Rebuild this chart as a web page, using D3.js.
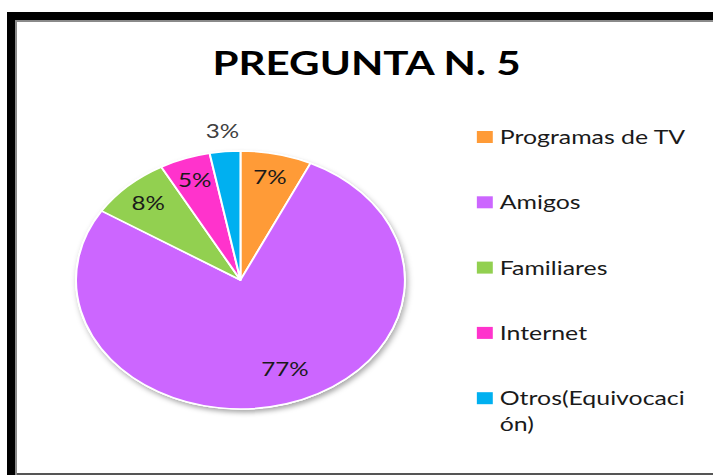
<!DOCTYPE html>
<html>
<head>
<meta charset="utf-8">
<script src="https://cdn.jsdelivr.net/npm/d3@7"></script>
<style>
  body { margin: 0; background: #fff; }
  svg { display: block; }
</style>
</head>
<body>
<svg id="chart"></svg>
<script>
var categories = ['Programas de TV', 'Amigos', 'Familiares', 'Internet', 'Otros(Equivocación)'];
var values = [7, 77, 8, 5, 3];
var colors = ['#FF9B37', '#CC66FF', '#92D050', '#FF33CC', '#00B0F0'];
var title = 'PREGUNTA N. 5';

var width = 713;
var height = 475;
var sx = 1.275; // the picture is stretched sideways
var cx = 188.6, cy = 280, radius = 129;

var svg = d3.select('#chart')
    .attr('width', width)
    .attr('height', height);

var defs = svg.append('defs');
var shadow = defs.append('filter')
    .attr('id', 'shadow')
    .attr('x', '-20%').attr('y', '-20%')
    .attr('width', '140%').attr('height', '140%');
shadow.append('feDropShadow')
    .attr('dx', 1.5).attr('dy', 3)
    .attr('stdDeviation', 2.5)
    .attr('flood-color', '#000')
    .attr('flood-opacity', 0.35);

svg.append('rect')
    .attr('width', width).attr('height', height)
    .attr('fill', '#fff');

// frame
svg.append('rect').attr('x', 7).attr('y', 12).attr('width', width).attr('height', 8).attr('fill', '#000');
svg.append('rect').attr('x', 7).attr('y', 12).attr('width', 8).attr('height', height).attr('fill', '#000');
svg.append('line').attr('x1', 16).attr('x2', 16).attr('y1', 20).attr('y2', height)
    .attr('stroke', '#8a8a8a').attr('stroke-width', 2);
svg.append('line').attr('x1', 15).attr('x2', width).attr('y1', 21).attr('y2', 21)
    .attr('stroke', '#8a8a8a').attr('stroke-width', 2);
svg.append('line').attr('x1', 17).attr('x2', width).attr('y1', 474).attr('y2', 474)
    .attr('stroke', '#555').attr('stroke-width', 2);

var g = svg.append('g')
    .attr('transform', `scale(${sx},1)`);

g.append('text')
    .attr('x', 287.5)
    .attr('y', 75)
    .attr('text-anchor', 'middle')
    .attr('font-family', 'Lato, sans-serif')
    .attr('font-weight', 'bold')
    .attr('font-size', 33)
    .attr('fill', '#000')
    .text(title);

var data = categories.map((c, i) => ({ name: c, value: values[i], color: colors[i] }));

var pie = d3.pie()
    .sort(null)
    .value(d => d.value);
var arcs = pie(data);
var total = d3.sum(values);

var arc = d3.arc().innerRadius(0).outerRadius(radius);

var pieG = g.append('g')
    .attr('transform', `translate(${cx},${cy})`);

pieG.append('circle')
    .attr('r', radius + 0.5)
    .attr('fill', '#fff')
    .attr('filter', 'url(#shadow)');

pieG.selectAll('path')
    .data(arcs)
    .enter().append('path')
    .attr('d', arc)
    .attr('fill', d => d.data.color)
    .attr('stroke', '#fff')
    .attr('stroke-width', 1.6)
    .attr('stroke-linejoin', 'round');

function labelRadius(d) {
    var share = d.data.value / total;
    if (share < 0.04) return radius * 1.16;
    if (share > 0.5) return radius * 0.72;
    return radius * 0.82;
}

pieG.selectAll('text.pct')
    .data(arcs)
    .enter().append('text')
    .attr('class', 'pct')
    .attr('transform', d => {
        var r = labelRadius(d);
        var c = d3.arc().innerRadius(r).outerRadius(r).centroid(d);
        // big slice label sits a little closer to the slice's middle line in the original
        if (d.data.value / total > 0.5) c[0] += 9;
        return `translate(${c[0]},${c[1]})`;
    })
    .attr('text-anchor', 'middle')
    .attr('dy', '0.36em')
    .attr('font-family', 'Lato, sans-serif')
    .attr('font-size', 19)
    .attr('fill', d => d.data.value / total < 0.04 ? '#404040' : '#1a1a1a')
    .text(d => Math.round(d.data.value / total * 100) + '%');

// legend
var legendX = 374, legendTop = 137, legendStep = 65.3, maxLabel = 150;
var legend = g.append('g');
var items = legend.selectAll('g')
    .data(data)
    .enter().append('g')
    .attr('transform', (d, i) => `translate(${legendX},${legendTop + i * legendStep})`);

items.append('rect')
    .attr('x', 0).attr('y', -6)
    .attr('width', 12.5).attr('height', 12)
    .attr('fill', d => d.color);

items.each(function (d) {
    var t = d3.select(this).append('text')
        .attr('x', 18)
        .attr('y', 7)
        .attr('font-family', 'Lato, sans-serif')
        .attr('font-size', 19.5)
        .attr('fill', '#1a1a1a');
    var line = '';
    var tspan = t.append('tspan').attr('x', 18).attr('dy', 0);
    for (var ch of d.name) {
        tspan.text(line + ch);
        if (tspan.node().getComputedTextLength() > maxLabel && line.length) {
            tspan.text(line);
            line = ch;
            tspan = t.append('tspan').attr('x', 18).attr('dy', 26).text(line);
        } else {
            line += ch;
        }
    }
});
</script>
</body>
</html>
